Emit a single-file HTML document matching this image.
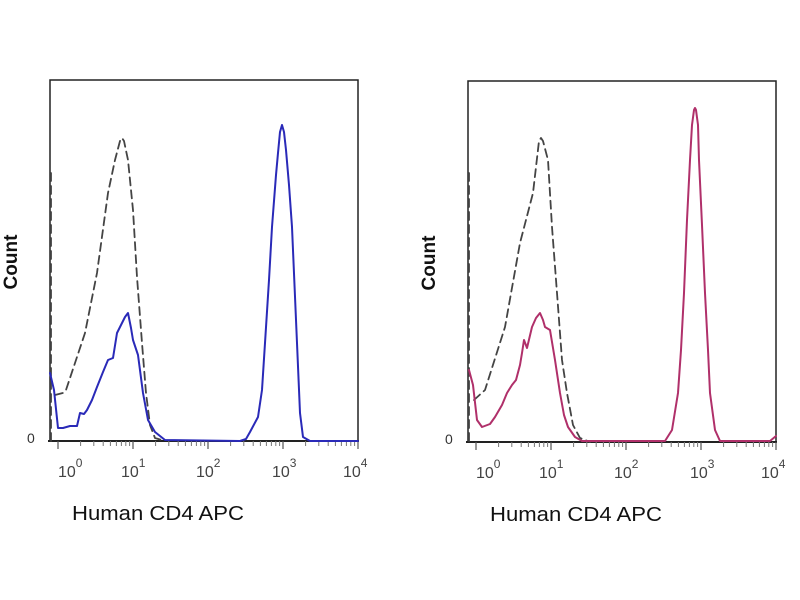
<!DOCTYPE html>
<html><head><meta charset="utf-8"><style>
html,body{margin:0;padding:0;background:#fff;width:800px;height:600px;overflow:hidden}
svg{display:block}
text{font-family:"Liberation Sans",sans-serif}
</style></head><body>
<svg width="800" height="600" viewBox="0 0 800 600" xmlns="http://www.w3.org/2000/svg">
<defs>
<g id="frame">
  <rect x="50" y="80" width="308" height="361" fill="none" stroke="#222" stroke-width="1.5"/>
  <line x1="48" y1="441" x2="359" y2="441" stroke="#222" stroke-width="2"/>
  <g stroke="#555" stroke-width="1.2">
    <line x1="58" y1="441" x2="58" y2="449"/><line x1="133" y1="441" x2="133" y2="449"/>
    <line x1="208" y1="441" x2="208" y2="449"/><line x1="283" y1="441" x2="283" y2="449"/>
    <line x1="358" y1="441" x2="358" y2="449"/>
  </g>
  <g stroke="#777" stroke-width="1">
    <path d="M80.6 441v5M93.8 441v5M103.2 441v5M110.4 441v5M116.4 441v5M121.4 441v5M125.8 441v5M129.6 441v5
             M155.6 441v5M168.8 441v5M178.2 441v5M185.4 441v5M191.4 441v5M196.4 441v5M200.8 441v5M204.6 441v5
             M230.6 441v5M243.8 441v5M253.2 441v5M260.4 441v5M266.4 441v5M271.4 441v5M275.8 441v5M279.6 441v5
             M305.6 441v5M318.8 441v5M328.2 441v5M335.4 441v5M341.4 441v5M346.4 441v5M350.8 441v5M354.6 441v5"/>
  </g>
  <g fill="#444" font-size="16">
    <text x="58" y="477">10<tspan dy="-10" font-size="12">0</tspan></text>
    <text x="121" y="477">10<tspan dy="-10" font-size="12">1</tspan></text>
    <text x="196" y="477">10<tspan dy="-10" font-size="12">2</tspan></text>
    <text x="272" y="477">10<tspan dy="-10" font-size="12">3</tspan></text>
    <text x="343" y="477">10<tspan dy="-10" font-size="12">4</tspan></text>
  </g>
  <text x="27" y="443" font-size="14" fill="#333">0</text>
  <text transform="translate(17,262) rotate(-90)" text-anchor="middle" font-size="19" font-weight="bold" fill="#111">Count</text>
  <text x="72" y="520" font-size="20" fill="#111" textLength="172" lengthAdjust="spacingAndGlyphs">Human CD4  APC</text>
</g>
</defs>

<use href="#frame"/>
<use href="#frame" transform="translate(418,1)"/>

<g stroke-linejoin="round" stroke-linecap="round">
<!-- Left dashed -->
<g fill="none" stroke="#444" stroke-width="1.8" stroke-dasharray="8,5">
  <path d="M51 173 L51 441"/>
  <path d="M55 395 L63 393 L66 390 L85 333 L97 273 L108 193 L115 160 L120 141 L122 138 L124 141 L128 160 L133 210 L137 277 L142 343 L146 393 L150 425 L155 438 L165 441"/>
</g>
<!-- Left blue -->
<path fill="none" stroke="#2a2ab8" stroke-width="2" d="M50 373 L54 390 L58 428 L63 428 L70 426 L77 426 L80 413 L84 414 L87 410 L92 400 L97 387 L103 372 L108 360 L113 358 L117 333 L121 325 L125 317 L128 313 L131 328 L133 340 L138 355 L143 393 L148 420 L155 432 L165 440 L240 441 L246 439 L250 432 L258 417 L262 390 L265 343 L269 280 L272 227 L276 175 L278 153 L280 132 L282 125 L284 132 L286 150 L289 185 L292 227 L297 343 L300 413 L303 437 L310 441 L358 441"/>

<!-- Right dashed -->
<g fill="none" stroke="#444" stroke-width="1.8" stroke-dasharray="8,5">
  <path d="M469 173 L469 442"/>
  <path d="M474 400 L485 390 L505 327 L520 243 L533 193 L539 141 L541 138 L543 141 L548 160 L552 227 L557 293 L562 360 L567 393 L573 425 L580 438 L590 442"/>
</g>
<!-- Right pink -->
<path fill="none" stroke="#b0306a" stroke-width="2" d="M469 370 L473 385 L477 420 L482 427 L490 424 L495 417 L502 405 L507 393 L512 385 L516 380 L520 365 L522 353 L524 340 L527 348 L532 327 L536 318 L540 313 L543 320 L545 327 L550 330 L555 360 L560 393 L564 415 L568 427 L575 437 L582 441 L665 441 L672 430 L678 393 L681 350 L684 293 L687 220 L690 160 L692 125 L694 110 L695 108 L696 110 L698 125 L699 160 L702 225 L705 293 L708 350 L710 393 L715 430 L720 441 L770 441 L776 436"/>
</g>
</svg>
</body></html>
